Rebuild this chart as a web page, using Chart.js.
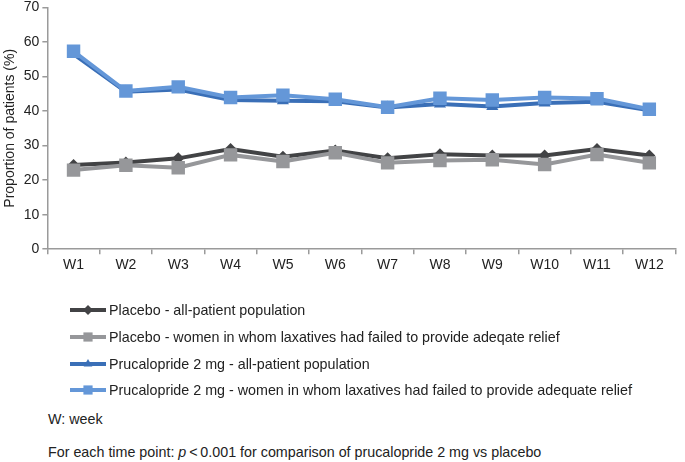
<!DOCTYPE html>
<html>
<head>
<meta charset="utf-8">
<script src="https://cdn.jsdelivr.net/npm/chart.js@4/dist/chart.umd.min.js"></script>
<style>
  body { margin: 0; background: #fff; font-family: Arial, "Liberation Sans", sans-serif; color: #222; }
  .wrap { position: relative; width: 685px; height: 462px; overflow: hidden; }
  .plot { position: absolute; left: 0; top: -4px; width: 685px; height: 281px; }
  .legend { position: absolute; left: 70px; top: 297px; }
  .legend .item { height: 26.7px; display: flex; align-items: center; font-size: 14.3px; }
  .legend canvas { width: 36px; height: 14px; margin-right: 3px; }
  .note { position: absolute; left: 48px; font-size: 14.3px; }
</style>
</head>
<body>
<div class="wrap">
  <div class="plot"><canvas id="myChart"></canvas></div>
  <div class="legend" id="legend"></div>
  <div class="note" style="top:411px">W: week</div>
  <div class="note" style="top:444px">For each time point: <i>p</i>&thinsp;&lt;&thinsp;0.001 for comparison of prucalopride 2 mg vs placebo</div>
</div>
<script>
const weeks = ['W1', 'W2', 'W3', 'W4', 'W5', 'W6', 'W7', 'W8', 'W9', 'W10', 'W11', 'W12'];
const placeboAll = [24.4, 25.1, 26.3, 29.0, 26.8, 28.6, 26.3, 27.5, 27.1, 27.1, 29.0, 27.1];
const placeboWomen = [22.9, 24.3, 23.6, 27.3, 25.4, 27.9, 25.0, 25.7, 25.9, 24.5, 27.4, 25.0];
const prucAll = [56.5, 45.6, 46.2, 43.2, 43.0, 42.8, 41.0, 42.0, 41.3, 42.3, 42.7, 40.2];
const prucWomen = [57.3, 45.8, 47.0, 43.9, 44.6, 43.4, 41.1, 43.7, 43.2, 43.9, 43.6, 40.5];
const seriesLabels = [
    'Placebo - all-patient population',
    'Placebo - women in whom laxatives had failed to provide adeqate relief',
    'Prucalopride 2 mg - all-patient population',
    'Prucalopride 2 mg - women in whom laxatives had failed to provide adequate relief',
];

function line(label, data, color, style, radius, order) {
    return {
        label, data, order,
        borderColor: color, backgroundColor: color,
        borderWidth: 4, pointStyle: style, pointRadius: radius,
        pointBorderWidth: 0, pointHoverRadius: radius, tension: 0,
    };
}

const chart = new Chart(document.getElementById('myChart'), {
    type: 'line',
    data: {
        labels: weeks,
        datasets: [
            line(seriesLabels[0], placeboAll, '#424345', 'rectRot', 6, 4),
            line(seriesLabels[1], placeboWomen, '#96979a', 'rect', 9.5, 3),
            line(seriesLabels[2], prucAll, '#3a6fb7', 'triangle', 7, 2),
            line(seriesLabels[3], prucWomen, '#6497d8', 'rect', 9.5, 1),
        ],
    },
    options: {
        responsive: true,
        maintainAspectRatio: false,
        animation: false,
        layout: { padding: { left: 2, right: 2, top: 0, bottom: 0 } },
        plugins: { legend: { display: false }, tooltip: { enabled: false } },
        scales: {
            x: {
                offset: true,
                grid: { offset: true, drawOnChartArea: false, tickLength: 5, color: '#9a9a9a', lineWidth: 1.5 },
                border: { color: '#9a9a9a', width: 1.5 },
                ticks: { color: '#222', padding: 3, font: { family: 'Arial', size: 14 } },
            },
            y: {
                min: 0, max: 70,
                grid: { drawOnChartArea: false, tickLength: 5, color: '#9a9a9a', lineWidth: 1.5 },
                border: { color: '#9a9a9a', width: 1.5 },
                ticks: { stepSize: 10, color: '#222', padding: 3, font: { family: 'Arial', size: 14 } },
                title: { display: true, text: 'Proportion of patients (%)', color: '#222',
                    padding: { top: 0, bottom: 2 }, font: { family: 'Arial', size: 14 } },
            },
        },
    },
});

// legend built from the chart's own datasets
function drawMarker(ctx, style, x, y, r) {
    ctx.beginPath();
    if (style === 'rect') {
        const s = r * Math.SQRT1_2;
        ctx.rect(x - s, y - s, 2 * s, 2 * s);
    } else if (style === 'rectRot') {
        ctx.moveTo(x, y - r); ctx.lineTo(x + r, y); ctx.lineTo(x, y + r); ctx.lineTo(x - r, y);
    } else if (style === 'triangle') {
        ctx.moveTo(x, y - r); ctx.lineTo(x + r * 0.87, y + r * 0.5); ctx.lineTo(x - r * 0.87, y + r * 0.5);
    }
    ctx.closePath();
    ctx.fill();
}

const legendEl = document.getElementById('legend');
chart.data.datasets.forEach(ds => {
    const item = document.createElement('div');
    item.className = 'item';
    const c = document.createElement('canvas');
    c.width = 36; c.height = 14;
    const ctx = c.getContext('2d');
    ctx.strokeStyle = ds.borderColor; ctx.fillStyle = ds.backgroundColor;
    ctx.lineWidth = 4;
    ctx.beginPath(); ctx.moveTo(0, 7); ctx.lineTo(36, 7); ctx.stroke();
    drawMarker(ctx, ds.pointStyle, 18, 7, ds.pointStyle === 'rect' ? 6.5 : 5);
    item.appendChild(c);
    const span = document.createElement('span');
    span.textContent = ds.label;
    item.appendChild(span);
    legendEl.appendChild(item);
});
</script>
</body>
</html>
